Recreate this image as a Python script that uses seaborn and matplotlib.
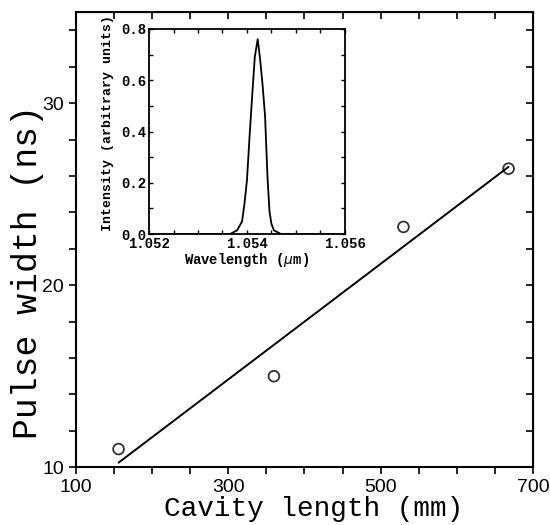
import numpy as np
import matplotlib
matplotlib.use("Agg")
import matplotlib.pyplot as plt
import seaborn as sns
from matplotlib.ticker import MultipleLocator, FixedLocator

# main data: pulse width vs cavity length
cavity_mm = [156, 360, 530, 668]
pulse_ns = [11.0, 15.0, 23.2, 26.4]

# inset spectrum
wavelength_um = [1.0520, 1.0535, 1.05365, 1.0538, 1.0539, 1.05395, 1.0540, 1.05405,
                 1.0541, 1.05416, 1.05422, 1.05427, 1.05432, 1.05437, 1.05442,
                 1.05446, 1.0545, 1.05455, 1.0547, 1.0560]
intensity = [0.0, 0.0, 0.0, 0.015, 0.05, 0.12, 0.21, 0.37, 0.52, 0.69, 0.76,
             0.68, 0.58, 0.46, 0.22, 0.09, 0.04, 0.015, 0.0, 0.0]

sns.set_style("ticks")
plt.rcParams["font.family"] = ["Liberation Sans", "DejaVu Sans"]
plt.rcParams["axes.edgecolor"] = "black"
plt.rcParams["xtick.color"] = "black"
plt.rcParams["ytick.color"] = "black"
plt.rcParams["text.color"] = "black"
plt.rcParams["axes.labelcolor"] = "black"

fig = plt.figure(figsize=(5.5, 5.25), dpi=100)
ax = fig.add_axes([0.138, 0.110, 0.831, 0.867])

sns.regplot(x=cavity_mm, y=pulse_ns, ax=ax, ci=None, color="black",
            marker="o",
            scatter_kws={"s": 60, "facecolors": "none", "edgecolors": "black",
                         "linewidths": 1.3},
            line_kws={"linewidth": 1.4})

ax.set_xlim(100, 700)
ax.set_ylim(10, 35)
ax.xaxis.set_major_locator(FixedLocator([100, 300, 500, 700]))
ax.xaxis.set_minor_locator(MultipleLocator(50))
ax.yaxis.set_major_locator(FixedLocator([10, 20, 30]))
ax.yaxis.set_minor_locator(MultipleLocator(2))
ax.tick_params(which="both", direction="out", length=5, width=1.2, labelsize=14)
for s in ax.spines.values():
    s.set_linewidth(1.5)
    s.set_visible(True)

# inward ticks on top and right
top = ax.secondary_xaxis("top")
top.xaxis.set_major_locator(MultipleLocator(50))
top.tick_params(direction="in", length=5, width=1.2, labeltop=False)
right = ax.secondary_yaxis("right")
right.yaxis.set_major_locator(MultipleLocator(2))
right.tick_params(direction="in", length=5, width=1.2, labelright=False)

ax.set_xlabel("Cavity length (mm)", family="Liberation Mono", fontsize=20)
ax.set_ylabel("Pulse width (ns)", family="Liberation Mono", fontsize=25)
ax.xaxis.set_label_coords(0.52, -0.064)
ax.yaxis.set_label_coords(-0.07, 0.43)

# inset
axin = fig.add_axes([0.271, 0.554, 0.356, 0.391])
sns.lineplot(x=wavelength_um, y=intensity, ax=axin, color="black", linewidth=1.3)
axin.set_xlim(1.052, 1.056)
axin.set_ylim(0, 0.8)
axin.xaxis.set_major_locator(FixedLocator([1.052, 1.054, 1.056]))
axin.xaxis.set_minor_locator(MultipleLocator(0.0005))
axin.yaxis.set_major_locator(MultipleLocator(0.2))
axin.yaxis.set_minor_locator(MultipleLocator(0.1))
axin.xaxis.set_major_formatter(lambda v, p: f"{v:.3f}")
axin.yaxis.set_major_formatter(lambda v, p: f"{v:.1f}")
axin.tick_params(which="both", direction="in", length=3, width=1.0,
                 top=True, right=True, labelsize=10, pad=2)
for lab in axin.get_xticklabels() + axin.get_yticklabels():
    lab.set_family("Liberation Mono")
    lab.set_fontweight("bold")
for s in axin.spines.values():
    s.set_linewidth(1.3)
    s.set_visible(True)
axin.set_xlabel("Wavelength ($\\mu$m)", family="Liberation Mono",
                fontweight="bold", fontsize=10, labelpad=0)
axin.set_ylabel("Intensity (arbitrary units)", family="Liberation Mono",
                fontweight="bold", fontsize=9.5)
axin.yaxis.set_label_coords(-0.18, 0.54)

fig.savefig("out.png", dpi=100)
